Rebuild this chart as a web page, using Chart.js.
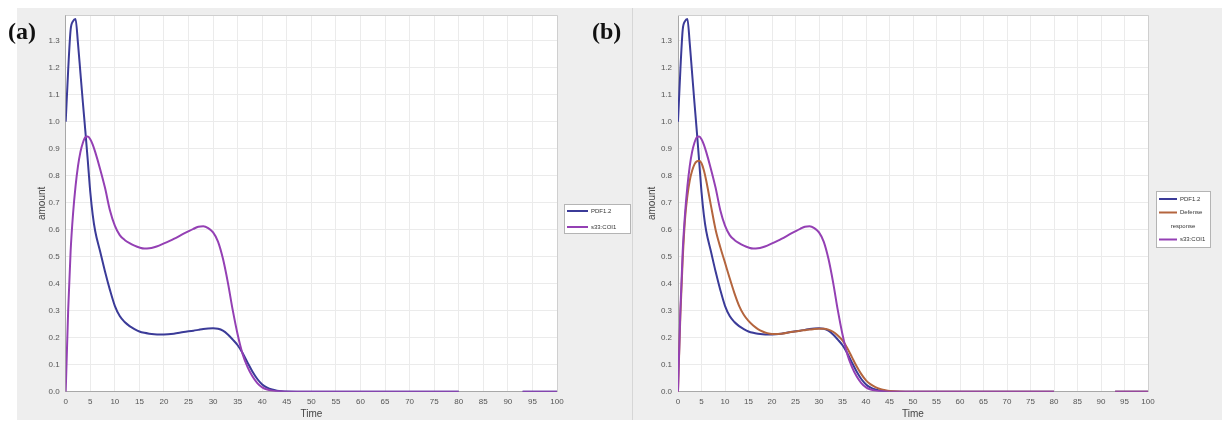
<!DOCTYPE html>
<html>
<head>
<meta charset="utf-8">
<script src="https://cdn.jsdelivr.net/npm/chart.js@4.4.0/dist/chart.umd.min.js"></script>
<style>
  body { margin: 0; background: #fff; width: 1224px; height: 422px; overflow: hidden; position: relative; }
  #bg { position: absolute; left: 17px; top: 8px; width: 1205px; height: 412px; background: #eeeeee; }
  #sep { position: absolute; left: 632px; top: 8px; width: 1px; height: 412px; background: #d6d6d6; }
  .panel { position: absolute; top: 8px; height: 412px; }
  #pa { left: 17px; width: 615px; }
  #pb { left: 633px; width: 591px; }
  .tag { position: absolute; top: 18px; font: bold 24px "Liberation Serif", "Times New Roman", serif; color: #111; }
</style>
</head>
<body>
<div id="bg"></div>
<div id="sep"></div>
<div class="panel" id="pa"><canvas id="chartA"></canvas></div>
<div class="panel" id="pb"><canvas id="chartB"></canvas></div>
<div class="tag" style="left:8px">(a)</div>
<div class="tag" style="left:592px">(b)</div>
<script>
// sample times (null at 86 = the gap in the plotted line between 80 and 93)
const times = [0, 0.5, 1, 1.5, 2, 2.5, 3, 3.5, 4, 4.5, 5, 5.5, 6, 7, 8, 9, 10, 11, 12, 13, 14, 15, 16, 17, 18, 19, 20,
  22, 24, 26, 27, 28, 29, 30, 31, 32, 33, 34, 35, 36, 37, 38, 39, 40, 41, 42, 43, 44, 45, 50, 60, 70, 80, 86, 93, 100];

const pdf12 = [1.00, 1.19, 1.34, 1.372, 1.38, 1.29, 1.18, 1.07, 0.965, 0.855, 0.74, 0.655, 0.595, 0.52, 0.445, 0.377, 0.318, 0.28, 0.258, 0.243, 0.232, 0.223, 0.218, 0.215, 0.213, 0.212, 0.212,
  0.215, 0.221, 0.226, 0.229, 0.232, 0.234, 0.235, 0.233, 0.226, 0.212, 0.193, 0.172, 0.143, 0.108, 0.075, 0.047, 0.027, 0.015, 0.008, 0.004, 0.002, 0.001, 0, 0, 0, 0, null, 0, 0];

const defense = [0, 0.28, 0.49, 0.64, 0.725, 0.782, 0.818, 0.842, 0.853, 0.855, 0.846, 0.82, 0.782, 0.69, 0.6, 0.535, 0.478, 0.42, 0.365, 0.318, 0.285, 0.262, 0.245, 0.232, 0.223, 0.217, 0.214,
  0.215, 0.221, 0.226, 0.228, 0.23, 0.232, 0.233, 0.233, 0.23, 0.222, 0.208, 0.19, 0.162, 0.128, 0.094, 0.065, 0.042, 0.027, 0.017, 0.01, 0.006, 0.003, 0, 0, 0, 0, null, 0, 0];

const coi1 = [0, 0.30, 0.52, 0.66, 0.76, 0.835, 0.888, 0.922, 0.942, 0.945, 0.935, 0.915, 0.888, 0.825, 0.755, 0.672, 0.615, 0.58, 0.562, 0.55, 0.541, 0.534, 0.53, 0.531, 0.535, 0.541, 0.549,
  0.566, 0.585, 0.603, 0.611, 0.613, 0.606, 0.59, 0.556, 0.493, 0.405, 0.302, 0.212, 0.14, 0.092, 0.057, 0.032, 0.016, 0.008, 0.004, 0.002, 0.001, 0, 0, 0, 0, 0, null, 0, 0];

const seriesNames = ['PDF1.2', 'Defense response', 's33:COI1'];
const seriesColors = ['#3b3b98', '#b4653e', '#9440b4'];

function pts(arr) {
  return times.map((t, i) => ({ x: t, y: arr[i] }));
}

const plotBg = {
  id: 'plotBg',
  beforeDraw(chart) {
    const a = chart.chartArea, ctx = chart.ctx;
    ctx.save();
    ctx.fillStyle = '#ffffff';
    ctx.fillRect(a.left, a.top, a.right - a.left, a.bottom - a.top);
    ctx.restore();
  },
  beforeDatasetsDraw(chart) {
    const a = chart.chartArea, ctx = chart.ctx;
    ctx.save();
    ctx.strokeStyle = '#cfcfcf';
    ctx.lineWidth = 1;
    ctx.beginPath();
    ctx.moveTo(a.left, a.top + 0.5);
    ctx.lineTo(a.right + 0.5, a.top + 0.5);
    ctx.lineTo(a.right + 0.5, a.bottom);
    ctx.stroke();
    ctx.restore();
  }
};

const boxLegend = {
  id: 'boxLegend',
  afterDraw(chart, args, o) {
    const ctx = chart.ctx;
    ctx.save();
    ctx.fillStyle = '#ffffff';
    ctx.fillRect(o.x, o.y, o.w, o.h);
    ctx.strokeStyle = '#b4b4b4';
    ctx.lineWidth = 1;
    ctx.strokeRect(o.x + 0.5, o.y + 0.5, o.w, o.h);
    ctx.font = '6px "Liberation Sans", Arial, sans-serif';
    ctx.textBaseline = 'middle';
    let y = o.y + o.first;
    chart.data.datasets.forEach(ds => {
      ctx.strokeStyle = ds.borderColor;
      ctx.lineWidth = 2;
      ctx.beginPath();
      ctx.moveTo(o.x + 3, y);
      ctx.lineTo(o.x + 3 + o.line, y);
      ctx.stroke();
      ctx.fillStyle = '#333';
      const tx = o.x + 6 + o.line;
      const words = ds.label.split(' ');
      if (words.length > 1 && ctx.measureText(ds.label).width > o.x + o.w - tx - 2) {
        ctx.textAlign = 'left';
        ctx.fillText(words[0], tx, y);
        y += o.step;
        ctx.textAlign = 'center';
        ctx.fillText(words.slice(1).join(' '), o.x + o.w / 2, y);
      } else {
        ctx.textAlign = 'left';
        ctx.fillText(ds.label, tx, y);
      }
      y += o.step;
    });
    ctx.restore();
  }
};

Chart.defaults.font.family = '"Liberation Sans", Arial, sans-serif';
Chart.defaults.font.size = 8;
Chart.defaults.color = '#555';

function makeChart(id, which, lay) {
  const sets = which.map(i => ({
    label: seriesNames[i],
    data: pts([pdf12, defense, coi1][i]),
    borderColor: seriesColors[i],
    borderWidth: 2,
    pointRadius: 0,
    cubicInterpolationMode: 'monotone',
    spanGaps: false,
    order: i === 2 ? 0 : (i === 1 ? 1 : 2)
  }));
  return new Chart(document.getElementById(id), {
    type: 'line',
    data: { datasets: sets },
    options: {
      responsive: true,
      maintainAspectRatio: false,
      animation: false,
      layout: { padding: { left: lay.padLeft, top: 7, right: lay.padRight, bottom: 0 } },
      plugins: {
        legend: { display: false },
        tooltip: { enabled: false },
        boxLegend: lay.legend
      },
      scales: {
        x: {
          type: 'linear',
          min: 0,
          max: 100,
          ticks: { stepSize: 5, padding: 5, maxRotation: 0, autoSkip: false },
          grid: { color: '#ebebeb', drawTicks: false },
          border: { color: '#a8a8a8' },
          title: { display: true, text: 'Time', font: { size: 10 }, color: '#444', padding: { top: 0, bottom: 0 } },
          afterFit(s) { s.height = 28.3; s.paddingLeft = 0; s.paddingRight = 0; }
        },
        y: {
          min: 0,
          max: 1.395,
          ticks: { stepSize: 0.1, padding: 6, includeBounds: false, callback: v => v.toFixed(1) },
          grid: { color: '#ebebeb', drawTicks: false },
          border: { color: '#a8a8a8' },
          title: { display: true, text: 'amount', font: { size: 10 }, color: '#444', padding: { top: 3, bottom: 0 } },
          afterFit(s) { s.width = lay.yWidth; s.paddingTop = 0; s.paddingBottom = 0; }
        }
      }
    },
    plugins: [plotBg, boxLegend]
  });
}

makeChart('chartA', [0, 2], {
  padLeft: 16, padRight: 75, yWidth: 32.7,
  legend: { x: 547, y: 196, w: 66, h: 29, first: 7, step: 16, line: 21 }
});

makeChart('chartB', [0, 1, 2], {
  padLeft: 10, padRight: 76, yWidth: 35,
  legend: { x: 523, y: 183, w: 54, h: 56, first: 8, step: 13.5, line: 18 }
});
</script>
</body>
</html>
